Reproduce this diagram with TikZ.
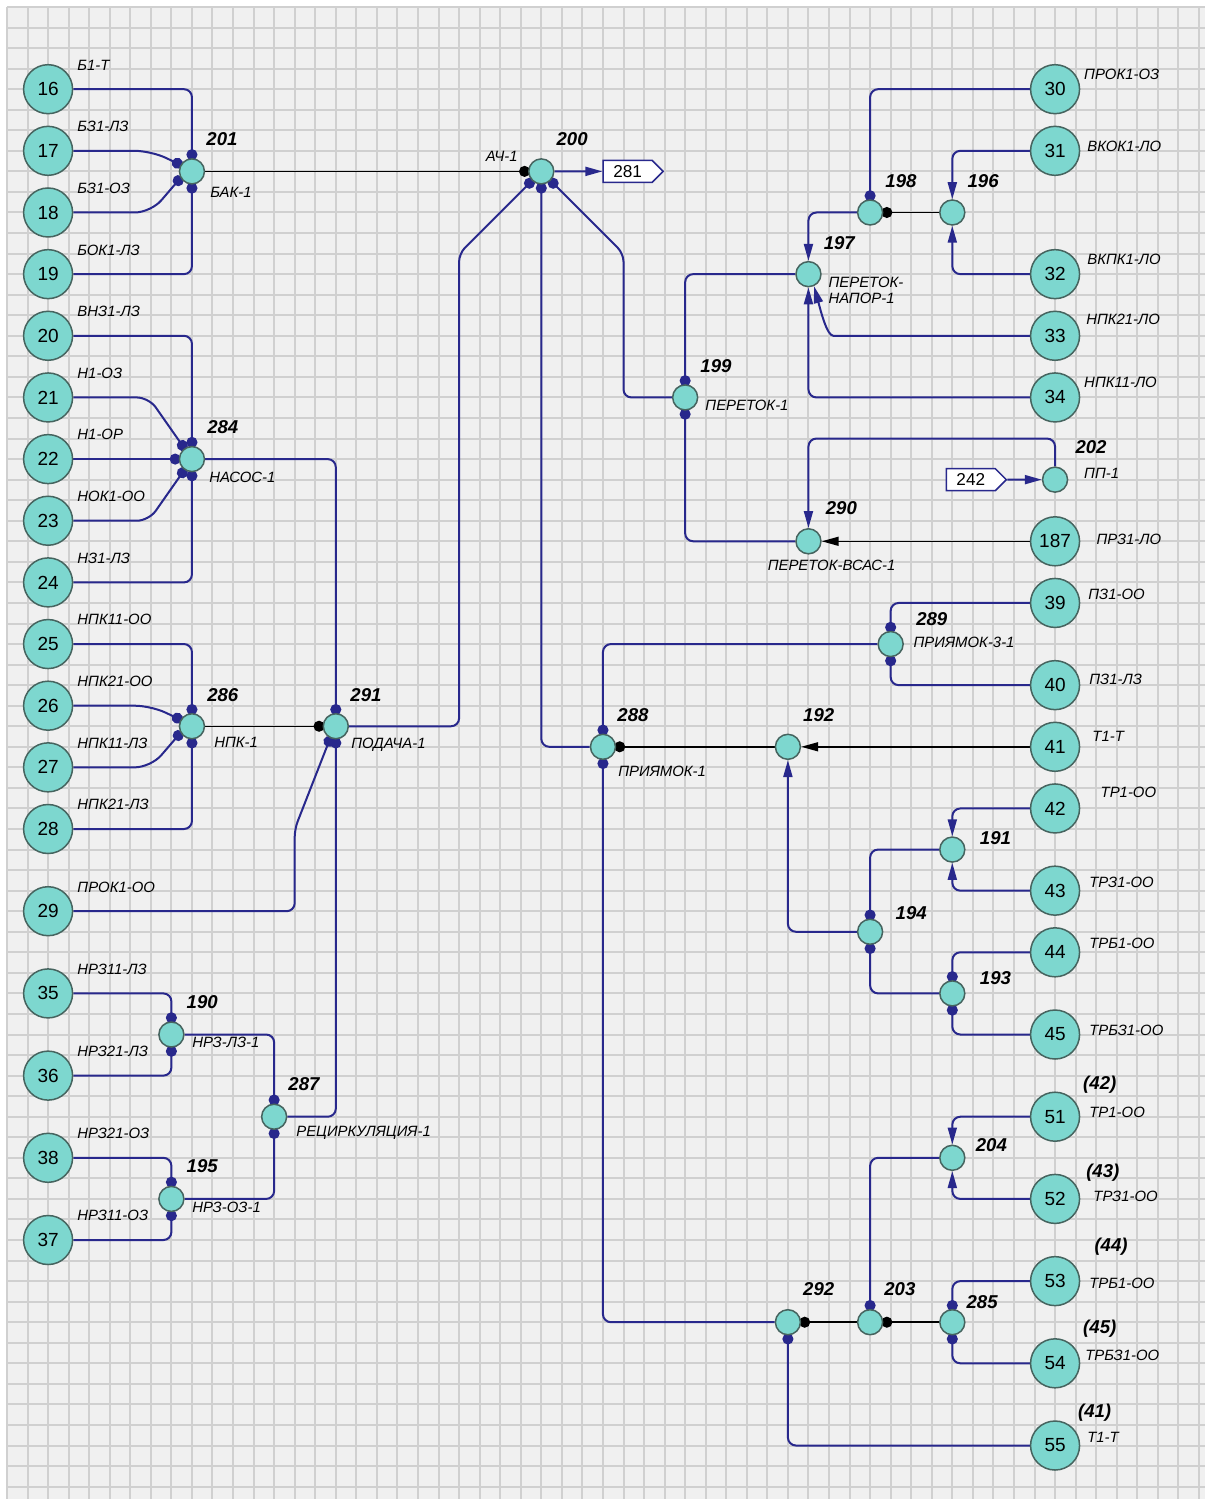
\documentclass[tikz,border=0pt]{standalone}
\usepackage{fontspec}
\setmainfont{Liberation Sans}
\usetikzlibrary{arrows.meta,calc,positioning,shapes.symbols}
\definecolor{pipeblue}{RGB}{40,40,140}
\definecolor{nodeteal}{RGB}{125,215,207}
\definecolor{ringgrey}{RGB}{70,100,95}
\definecolor{gridbg}{RGB}{240,240,240}
\definecolor{gridln}{RGB}{208,208,208}
\pgfdeclarelayer{grid}
\pgfdeclarelayer{pipes}
\pgfsetlayers{grid,pipes,main}

\begin{document}
\begin{tikzpicture}[x=10.275pt, y=-10.275pt,
  src/.style={circle, draw=ringgrey, fill=nodeteal, line width=0.75pt, minimum size=24.5pt, inner sep=0pt, font=\fontsize{9.5}{11}\selectfont},
  jn/.style={circle, draw=ringgrey, fill=nodeteal, line width=0.75pt, minimum size=12.5pt, inner sep=0pt},
  tagbox/.style={signal, signal to=east, draw=pipeblue, fill=white, line width=0.75pt, minimum width=30pt, minimum height=11pt, inner sep=1pt, font=\fontsize{8.6}{10}\selectfont},
  namelbl/.style={font=\fontsize{7.45}{9}\selectfont\itshape, inner sep=0pt},
  idlbl/.style={font=\fontsize{9.3}{11}\selectfont\bfseries\itshape, inner sep=0pt},
  pipe/.style={pipeblue, line width=1pt, rounded corners=4pt},
  link/.style={black, line width=0.75pt},
  dotend/.style={-{Circle[length=5.5pt]}, shorten >=-1pt},
  arrend/.style={-{Triangle[length=8.5pt,width=4.5pt]}}]
  \useasboundingbox (-0.34,-0.34) rectangle (58.59,72.70);
  % grid sheet
  \begin{pgfonlayer}{grid}
    \fill[white] (-0.34,-0.34) rectangle (58.59,72.70);
    \fill[gridbg] (0,0) rectangle (58.3,72.6);
    \foreach \i in {0,...,58} \draw[gridln, line width=1pt] (\i,0) -- (\i,72.6);
    \foreach \j in {0,...,72} \draw[gridln, line width=1pt] (0,\j) -- (58.3,\j);
  \end{pgfonlayer}

  % left sources
  \foreach \n/\y/\t in {16/4/Б1-Т, 17/7/БЗ1-ЛЗ, 18/10/БЗ1-ОЗ, 19/13/БОК1-ЛЗ, 20/16/ВНЗ1-ЛЗ,
      21/19/Н1-ОЗ, 22/22/Н1-ОР, 23/25/НОК1-ОО, 24/28/НЗ1-ЛЗ, 25/31/НПК11-ОО, 26/34/НПК21-ОО,
      27/37/НПК11-ЛЗ, 28/40/НПК21-ЛЗ, 29/44/ПРОК1-ОО, 35/48/НРЗ11-ЛЗ, 36/52/НРЗ21-ЛЗ,
      38/56/НРЗ21-ОЗ, 37/60/НРЗ11-ОЗ} {
    \node[src] (p\n) at (2,\y) {\n};
    \node[namelbl, anchor=west] at (3.41,\y-1.18) {\t};
  }
  % right sources
  \foreach \n/\y/\lx/\ly/\t in {30/4/52.4/3.26/ПРОК1-ОЗ, 31/7/52.55/6.8/ВКОК1-ЛО,
      32/13/52.55/12.3/ВКПК1-ЛО, 33/16/52.5/15.2/НПК21-ЛО, 34/19/52.4/18.25/НПК11-ЛО,
      187/26/53.0/25.9/ПРЗ1-ЛО, 39/29/52.6/28.56/ПЗ1-ОО, 40/33/52.65/32.7/ПЗ1-ЛЗ,
      41/36/52.8/35.5/Т1-Т, 42/39/53.2/38.2/ТР1-ОО, 43/43/52.65/42.6/ТРЗ1-ОО,
      44/46/52.65/45.55/ТРБ1-ОО, 45/50/52.65/49.8/ТРБЗ1-ОО, 51/54/52.65/53.8/ТР1-ОО,
      52/58/52.85/57.9/ТРЗ1-ОО, 53/62/52.65/62.1/ТРБ1-ОО, 54/66/52.45/65.6/ТРБЗ1-ОО,
      55/70/52.55/69.6/Т1-Т} {
    \node[src] (p\n) at (51,\y) {\n};
    \node[namelbl, anchor=west] at (\lx,\ly) {\t};
  }
  \node[idlbl, anchor=west] at (52.35,52.46) {(42)};
  \node[idlbl, anchor=west] at (52.5,56.7) {(43)};
  \node[idlbl, anchor=west] at (52.9,60.34) {(44)};
  \node[idlbl, anchor=west] at (52.35,64.3) {(45)};
  \node[idlbl, anchor=west] at (52.1,68.4) {(41)};

  % junctions
  \node[jn] (j201) at (9,8) {};
  \node[idlbl] at (10.46,6.44) {201};
  \node[namelbl, anchor=west] at (9.88,9.0) {БАК-1};
  \node[jn] (j200) at (26,8) {};
  \node[idlbl] at (27.5,6.44) {200};
  \node[namelbl, anchor=east] at (24.87,7.25) {АЧ-1};
  \node[jn] (j284) at (9,22) {};
  \node[idlbl] at (10.5,20.45) {284};
  \node[namelbl, anchor=west] at (9.83,22.9) {НАСОС-1};
  \node[jn] (j286) at (9,35) {};
  \node[idlbl] at (10.5,33.5) {286};
  \node[namelbl, anchor=west] at (10.07,35.8) {НПК-1};
  \node[jn] (j291) at (16,35) {};
  \node[idlbl] at (17.47,33.5) {291};
  \node[namelbl, anchor=west] at (16.74,35.9) {ПОДАЧА-1};
  \node[jn] (j190) at (8,50) {};
  \node[idlbl] at (9.5,48.4) {190};
  \node[namelbl, anchor=west] at (9.0,50.4) {НРЗ-ЛЗ-1};
  \node[jn] (j287) at (13,54) {};
  \node[idlbl] at (14.45,52.4) {287};
  \node[namelbl, anchor=west] at (14.06,54.8) {РЕЦИРКУЛЯЦИЯ-1};
  \node[jn] (j195) at (8,58) {};
  \node[idlbl] at (9.5,56.4) {195};
  \node[namelbl, anchor=west] at (9.0,58.4) {НРЗ-ОЗ-1};
  \node[jn] (j198) at (42,10) {};
  \node[idlbl] at (43.5,8.47) {198};
  \node[jn] (j196) at (46,10) {};
  \node[idlbl] at (47.5,8.47) {196};
  \node[jn] (j197) at (39,13) {};
  \node[idlbl] at (40.5,11.47) {197};
  \node[namelbl, anchor=west] at (39.96,13.4) {ПЕРЕТОК-};
  \node[namelbl, anchor=west] at (39.96,14.2) {НАПОР-1};
  \node[jn] (j199) at (33,19) {};
  \node[idlbl] at (34.5,17.47) {199};
  \node[namelbl, anchor=west] at (33.97,19.37) {ПЕРЕТОК-1};
  \node[jn] (j202) at (51,23) {};
  \node[idlbl] at (52.75,21.4) {202};
  \node[namelbl, anchor=west] at (52.4,22.7) {ПП-1};
  \node[jn] (j290) at (39,26) {};
  \node[idlbl] at (40.6,24.4) {290};
  \node[namelbl, anchor=west] at (37.0,27.15) {ПЕРЕТОК-ВСАС-1};
  \node[jn] (j289) at (43,31) {};
  \node[idlbl] at (45.0,29.8) {289};
  \node[namelbl, anchor=west] at (44.1,30.9) {ПРИЯМОК-3-1};
  \node[jn] (j288) at (29,36) {};
  \node[idlbl] at (30.46,34.45) {288};
  \node[namelbl, anchor=west] at (29.73,37.2) {ПРИЯМОК-1};
  \node[jn] (j192) at (38,36) {};
  \node[idlbl] at (39.5,34.45) {192};
  \node[jn] (j191) at (46,41) {};
  \node[idlbl] at (48.1,40.45) {191};
  \node[jn] (j194) at (42,45) {};
  \node[idlbl] at (44.0,44.1) {194};
  \node[jn] (j193) at (46,48) {};
  \node[idlbl] at (48.1,47.25) {193};
  \node[jn] (j204) at (46,56) {};
  \node[idlbl] at (47.9,55.4) {204};
  \node[jn] (j292) at (38,64) {};
  \node[idlbl] at (39.5,62.4) {292};
  \node[jn] (j203) at (42,64) {};
  \node[idlbl] at (43.45,62.4) {203};
  \node[jn] (j285) at (46,64) {};
  \node[idlbl] at (47.45,63.0) {285};
  \node[tagbox] (t281) at (30.2,8) {281};
  \node[tagbox] (t242) at (46.9,23) {242};

  % connectors
  \begin{pgfonlayer}{pipes}
    \draw[pipe,dotend] (p16) -| (j201);
    \draw[pipe,dotend,rounded corners=8pt] (p17) -- (7,7) -- (j201.150);
    \draw[pipe,dotend,rounded corners=8pt] (p18) -- (7,10) -- (j201.210);
    \draw[pipe,dotend] (p19) -| (j201);
    \draw[link,dotend] (j201) -- (j200);
    \draw[pipe,dotend] (p20) -| (j284);
    \draw[pipe,dotend,rounded corners=6pt] (p21) -- (6.9,19) -- (j284.125);
    \draw[pipe,dotend] (p22) -- (j284);
    \draw[pipe,dotend,rounded corners=6pt] (p23) -- (6.9,25) -- (j284.235);
    \draw[pipe,dotend] (p24) -| (j284);
    \draw[pipe,dotend] (j284) -| (j291);
    \draw[pipe,dotend] (p25) -| (j286);
    \draw[pipe,dotend,rounded corners=8pt] (p26) -- (7,34) -- (j286.150);
    \draw[pipe,dotend,rounded corners=8pt] (p27) -- (7,37) -- (j286.210);
    \draw[pipe,dotend] (p28) -| (j286);
    \draw[link,dotend] (j286) -- (j291);
    \draw[pipe,dotend] (p29) -- (14,44) -- (14,40) -- (j291.245);
    \draw[pipe,dotend] (j287) -| (j291);
    \draw[pipe,dotend] (j291) -- (22,35) -- (22,12) -- (j200.225);
    \draw[pipe,dotend] (p35) -| (j190);
    \draw[pipe,dotend] (p36) -| (j190);
    \draw[pipe,dotend] (j190) -| (j287);
    \draw[pipe,dotend] (p38) -| (j195);
    \draw[pipe,dotend] (p37) -| (j195);
    \draw[pipe,dotend] (j195) -| (j287);
    \draw[pipe,arrend] (j200) -- (t281);
    \draw[pipe,dotend] (p30) -| (j198);
    \draw[link,dotend] (j196) -- (j198);
    \draw[pipe,arrend] (p31) -| (j196);
    \draw[pipe,arrend] (p32) -| (j196);
    \draw[pipe,arrend] (j198) -| (j197);
    \draw[pipe,arrend] (p33) -- (40.6,16) .. controls (39.9,16) and (39.6,14.8) .. (j197.295);
    \draw[pipe,arrend] (p34) -| (j197);
    \draw[pipe,dotend] (j197) -| (j199);
    \draw[pipe,dotend] (j199) -- (30,19) -- (30,12) -- (j200.315);
    \draw[pipe,dotend] (j290) -| (j199);
    \draw[pipe,arrend] (j202) -- (51,21) -| (j290);
    \draw[pipe,arrend] (t242) -- (j202);
    \draw[link,arrend] (p187) -- (j290);
    \draw[pipe,dotend] (p39) -| (j289);
    \draw[pipe,dotend] (p40) -| (j289);
    \draw[pipe,dotend] (j289) -| (j288);
    \draw[pipe,dotend] (j288) -| (j200);
    \draw[link,arrend] (p41) -- (j192);
    \draw[link,dotend] (j192) -- (j288);
    \draw[pipe,arrend] (j194) -| (j192);
    \draw[pipe,arrend] (p42) -| (j191);
    \draw[pipe,arrend] (p43) -| (j191);
    \draw[pipe,dotend] (j191) -| (j194);
    \draw[pipe,dotend] (p44) -| (j193);
    \draw[pipe,dotend] (p45) -| (j193);
    \draw[pipe,dotend] (j193) -| (j194);
    \draw[pipe,arrend] (p51) -| (j204);
    \draw[pipe,arrend] (p52) -| (j204);
    \draw[pipe,dotend] (j204) -| (j203);
    \draw[pipe,dotend] (p53) -| (j285);
    \draw[pipe,dotend] (p54) -| (j285);
    \draw[link,dotend] (j285) -- (j203);
    \draw[link,dotend] (j203) -- (j292);
    \draw[pipe,dotend] (p55) -| (j292);
    \draw[pipe,dotend] (j292) -| (j288);
  \end{pgfonlayer}
\end{tikzpicture}
\end{document}
